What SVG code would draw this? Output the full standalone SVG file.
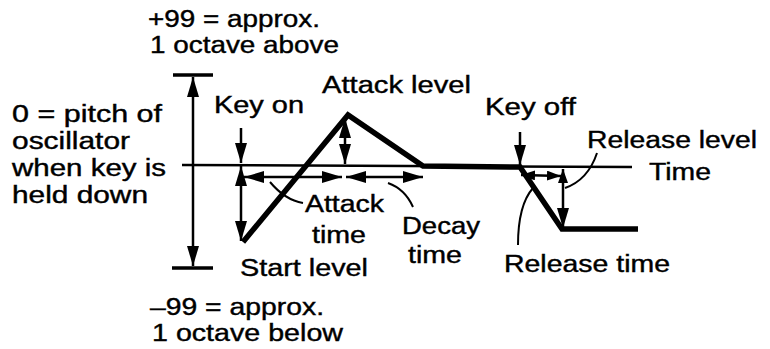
<svg xmlns="http://www.w3.org/2000/svg" width="770" height="349" viewBox="0 0 770 349">
<style>
text{font-family:"Liberation Sans",Arial,sans-serif;font-size:23.5px;fill:#000;stroke:#000;stroke-width:0.4}
.thin{stroke:#000;stroke-width:2.5;fill:none}
.lead{stroke:#000;stroke-width:2;fill:none}
.thick{stroke:#000;stroke-width:5.5;fill:none;stroke-linejoin:miter;stroke-linecap:butt}
.bar{stroke:#000;stroke-width:3.5;fill:none}
</style>
<defs>
<marker id="ah" viewBox="0 0 20 12" refX="20" refY="6" markerWidth="20" markerHeight="12" markerUnits="userSpaceOnUse" orient="auto-start-reverse">
<path d="M0,0 L20,6 L0,12 z" fill="#000"/>
</marker>
<marker id="as" viewBox="0 0 14 10" refX="14" refY="5" markerWidth="14" markerHeight="10" markerUnits="userSpaceOnUse" orient="auto-start-reverse">
<path d="M0,0 L14,5 L0,10 z" fill="#000"/>
</marker>
</defs>

<g id="connectors">
<line class="bar" x1="173" y1="75" x2="213" y2="75"/>
<line class="bar" x1="172" y1="268" x2="213" y2="268"/>
<line class="thin" x1="193" y1="77" x2="193" y2="266" marker-start="url(#ah)" marker-end="url(#ah)"/>
<line class="thin" x1="182" y1="165" x2="632" y2="167"/>
<polyline class="thick" points="243,242 348,115 423,166 520,167 562,229 638,229"/>
<line class="thin" x1="241" y1="128" x2="241" y2="163" marker-end="url(#ah)"/>
<line class="thin" x1="241" y1="166" x2="241" y2="241" marker-start="url(#ah)" marker-end="url(#ah)"/>
<line class="thin" x1="345" y1="118" x2="345" y2="164" marker-start="url(#ah)" marker-end="url(#ah)"/>
<line class="thin" x1="244" y1="177" x2="342" y2="177" marker-start="url(#ah)" marker-end="url(#ah)"/>
<line class="thin" x1="346" y1="177" x2="423" y2="177" marker-start="url(#ah)" marker-end="url(#ah)"/>
<line class="thin" x1="520" y1="132" x2="520" y2="165" marker-end="url(#ah)"/>
<line class="thin" x1="563" y1="169" x2="563" y2="228" marker-start="url(#as)" marker-end="url(#ah)"/>
<line class="thin" x1="521" y1="175" x2="561" y2="176" marker-start="url(#as)" marker-end="url(#as)"/>
<path class="lead" d="M270,182 Q285,200 303,203"/>
<path class="lead" d="M388,183 Q405,189 413,207"/>
<path class="lead" d="M597,153 Q588,180 565,188"/>
<path class="lead" d="M533,188 Q518,205 518,245"/>
</g>

<g id="top-label"><text x="148" y="27" textLength="172" lengthAdjust="spacingAndGlyphs">+99 = approx.</text>
<text x="150" y="53" textLength="189" lengthAdjust="spacingAndGlyphs">1 octave above</text></g>
<g id="zero-label">
<text x="12" y="122" textLength="150" lengthAdjust="spacingAndGlyphs">0 = pitch of</text>
<text x="12" y="149" textLength="118" lengthAdjust="spacingAndGlyphs">oscillator</text>
<text x="12" y="176" textLength="154" lengthAdjust="spacingAndGlyphs">when key is</text>
<text x="12" y="203" textLength="136" lengthAdjust="spacingAndGlyphs">held down</text>
</g>
<g id="bottom-label"><text x="150" y="315" textLength="174" lengthAdjust="spacingAndGlyphs">–99 = approx.</text>
<text x="152" y="341" textLength="191" lengthAdjust="spacingAndGlyphs">1 octave below</text></g>
<g id="key-on"><text x="214" y="113" textLength="90" lengthAdjust="spacingAndGlyphs">Key on</text></g>
<g id="attack-level"><text x="322" y="93" textLength="149" lengthAdjust="spacingAndGlyphs">Attack level</text></g>
<g id="attack-time"><text x="305" y="212" textLength="79" lengthAdjust="spacingAndGlyphs">Attack</text>
<text x="312" y="243" textLength="54" lengthAdjust="spacingAndGlyphs">time</text></g>
<g id="decay-time"><text x="402" y="234" textLength="78" lengthAdjust="spacingAndGlyphs">Decay</text>
<text x="408" y="263" textLength="54" lengthAdjust="spacingAndGlyphs">time</text></g>
<g id="start-level"><text x="240" y="276" textLength="128" lengthAdjust="spacingAndGlyphs">Start level</text></g>
<g id="key-off"><text x="485" y="115" textLength="91" lengthAdjust="spacingAndGlyphs">Key off</text></g>
<g id="release-level"><text x="587" y="148" textLength="170" lengthAdjust="spacingAndGlyphs">Release level</text></g>
<g id="time-axis"><text x="649" y="180" textLength="62" lengthAdjust="spacingAndGlyphs">Time</text></g>
<g id="release-time"><text x="504" y="272" textLength="166" lengthAdjust="spacingAndGlyphs">Release time</text></g>
</svg>
